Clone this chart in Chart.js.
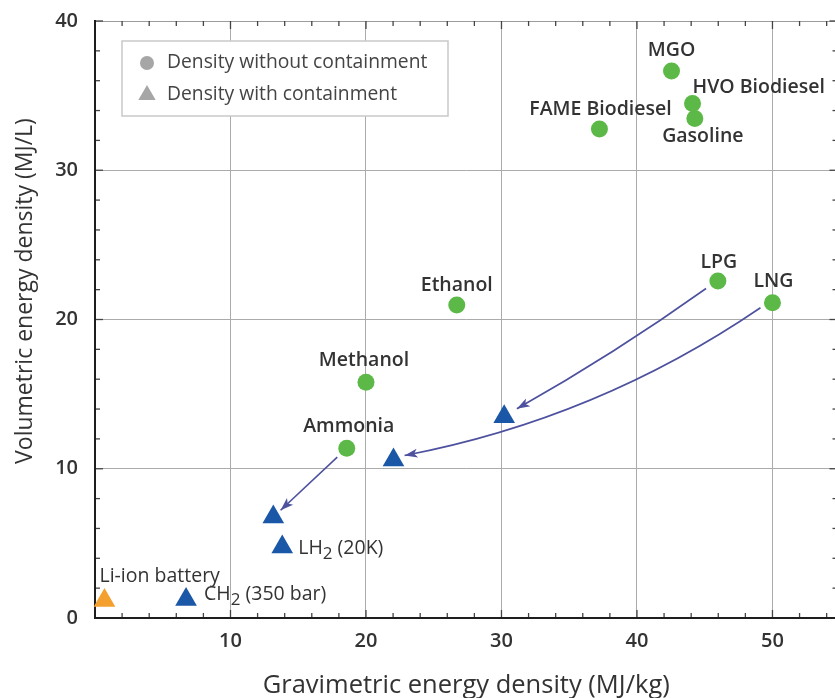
<!DOCTYPE html>
<html>
<head>
<meta charset="utf-8">
<script src="https://cdn.jsdelivr.net/npm/chart.js@4.4.1/dist/chart.umd.min.js"></script>
<style>
html, body { margin: 0; padding: 0; overflow: hidden; background: #fff; }
#wrap { width: 850px; height: 698px; }
</style>
</head>
<body>
<div id="wrap"><canvas id="energyChart" width="850" height="698"></canvas></div>
<script>
// Fuels, density without containment (green circles)
const fuelNames = ['MGO', 'HVO Biodiesel', 'Gasoline', 'FAME Biodiesel', 'Ethanol', 'Methanol', 'Ammonia', 'LPG', 'LNG'];
const fuelGravimetric = [42.55, 44.1, 44.27, 37.23, 26.7, 20.0, 18.58, 45.97, 50.0];
const fuelVolumetric = [36.65, 34.47, 33.47, 32.77, 20.97, 15.8, 11.38, 22.58, 21.12];

// Density with containment (triangles)
const storedNames = ['LPG', 'LNG', 'Ammonia', 'LH₂ (20K)', 'CH₂ (350 bar)', 'Li-ion battery'];
const storedGravimetric = [30.2, 22.03, 13.16, 13.82, 6.72, 0.7];
const storedVolumetric = [13.48, 10.58, 6.76, 4.76, 1.24, 1.18];

// Arrows go from the fuel to its contained version
const arrowNames = ['LPG', 'LNG', 'Ammonia'];

const xTicks = [10, 20, 30, 40, 50];
const yTicks = [0, 10, 20, 30, 40];
const legendLabels = ['Density without containment', 'Density with containment'];
const xTitle = 'Gravimetric energy density (MJ/kg)';
const yTitle = 'Volumetric energy density (MJ/L)';

const COLORS = {
    green: '#5cb947',
    blue: '#1b57a7',
    orange: '#f4a02f',
    arrow: '#4d519e',
    grid: '#ababab',
    text: '#333333',
    legendIcon: '#a6a6a6'
};
const FONT = '"Open Sans", "Noto Sans", sans-serif';

// Label offsets in pixels from the marker
const fuelLabelPos = {
    'MGO': { dx: 0, dy: -21, align: 'center' },
    'HVO Biodiesel': { dx: 0, dy: -16, align: 'left' },
    'Gasoline': { dx: 8, dy: 18, align: 'center' },
    'FAME Biodiesel': { dx: 1, dy: -19, align: 'center' },
    'Ethanol': { dx: 0, dy: -20, align: 'center' },
    'Methanol': { dx: -2, dy: -22, align: 'center' },
    'Ammonia': { dx: 2, dy: -22, align: 'center' },
    'LPG': { dx: 1, dy: -19, align: 'center' },
    'LNG': { dx: 1, dy: -21, align: 'center' }
};
const storedLabelPos = {
    'LH₂ (20K)': { dx: 16, dy: 1, align: 'left' },
    'CH₂ (350 bar)': { dx: 18, dy: -5, align: 'left' },
    'Li-ion battery': { dx: -5, dy: -24, align: 'left' }
};
const arrowShape = {
    'LPG': { bow: 6, startGap: 14, endGap: 15 },
    'LNG': { bow: 40, startGap: 13, endGap: 12 },
    'Ammonia': { bow: 0, startGap: 13, endGap: 10 }
};

// Text with a "₂" drawn as a lowered, smaller 2
function drawRichText(ctx, text, x, y, align, size, weight) {
    const parts = text.split('₂');
    const normal = weight + ' ' + size + 'px ' + FONT;
    const small = weight + ' ' + Math.round(size * 0.85) + 'px ' + FONT;
    const pieces = [];
    parts.forEach((p, i) => {
        pieces.push({ t: p, f: normal, dy: 0 });
        if (i < parts.length - 1) pieces.push({ t: '2', f: small, dy: 6 });
    });
    let total = 0;
    pieces.forEach(p => { ctx.font = p.f; p.w = ctx.measureText(p.t).width; total += p.w; });
    let cx = align === 'center' ? x - total / 2 : (align === 'right' ? x - total : x);
    ctx.textAlign = 'left';
    ctx.textBaseline = 'middle';
    pieces.forEach(p => {
        ctx.font = p.f;
        ctx.fillText(p.t, cx, y + p.dy);
        cx += p.w;
    });
}

function drawArrow(ctx, p0, p1, shape) {
    const dx = p1.x - p0.x, dy = p1.y - p0.y;
    const len = Math.hypot(dx, dy);
    const ux = dx / len, uy = dy / len;
    const s = { x: p0.x + ux * shape.startGap, y: p0.y + uy * shape.startGap };
    const e = { x: p1.x - ux * shape.endGap, y: p1.y - uy * shape.endGap };
    const c = { x: (s.x + e.x) / 2 + uy * shape.bow, y: (s.y + e.y) / 2 - ux * shape.bow };
    ctx.strokeStyle = COLORS.arrow;
    ctx.fillStyle = COLORS.arrow;
    ctx.lineWidth = 1.6;
    ctx.beginPath();
    ctx.moveTo(s.x, s.y);
    ctx.quadraticCurveTo(c.x, c.y, e.x, e.y);
    ctx.stroke();
    // arrow head
    const hx = e.x - c.x, hy = e.y - c.y;
    const hl = Math.hypot(hx, hy);
    const ax = hx / hl, ay = hy / hl;
    const L = 13, W = 4.5;
    ctx.beginPath();
    ctx.moveTo(e.x, e.y);
    ctx.lineTo(e.x - ax * L - ay * W, e.y - ay * L + ax * W);
    ctx.lineTo(e.x - ax * L * 0.75, e.y - ay * L * 0.75);
    ctx.lineTo(e.x - ax * L + ay * W, e.y - ay * L - ax * W);
    ctx.closePath();
    ctx.fill();
}

const framePlugin = {
    id: 'frame',
    beforeDatasetsDraw(chart) {
        const { ctx, chartArea: a, scales: { x, y } } = chart;
        const line = (x1, y1, x2, y2) => { ctx.beginPath(); ctx.moveTo(x1, y1); ctx.lineTo(x2, y2); ctx.stroke(); };
        ctx.save();
        ctx.strokeStyle = '#9c9c9c';
        ctx.lineWidth = 1;
        line(a.left, a.top + 0.5, a.right, a.top + 0.5);

        ctx.strokeStyle = '#444';
        ctx.lineWidth = 1.3;
        x.ticks.filter(t => t.value % 2 === 0).forEach(t => {
            const px = x.getPixelForValue(t.value);
            const len = t.value % 10 === 0 ? 8 : 5;
            line(px, a.bottom, px, a.bottom - len);
            line(px, a.top, px, a.top + len);
        });
        y.ticks.filter(t => t.value % 2 === 0).forEach(t => {
            const py = y.getPixelForValue(t.value);
            const len = t.value % 10 === 0 ? 8 : 5;
            line(a.left, py, a.left + len, py);
            line(a.right, py, a.right - len, py);
        });

        ctx.strokeStyle = '#1e1e1e';
        ctx.lineWidth = 2;
        line(a.left, a.top - 1, a.left, a.bottom + 1);
        line(a.left - 1, a.bottom, a.right, a.bottom);
        ctx.restore();
    },
    afterDatasetsDraw(chart) {
        const { ctx, chartArea: a, scales: { x, y } } = chart;
        ctx.save();

        // arrows
        arrowNames.forEach(name => {
            const i = fuelNames.indexOf(name);
            const j = storedNames.indexOf(name);
            const p0 = { x: x.getPixelForValue(fuelGravimetric[i]), y: y.getPixelForValue(fuelVolumetric[i]) };
            const p1 = { x: x.getPixelForValue(storedGravimetric[j]), y: y.getPixelForValue(storedVolumetric[j]) };
            drawArrow(ctx, p0, p1, arrowShape[name]);
        });

        // point labels
        ctx.fillStyle = COLORS.text;
        fuelNames.forEach((name, i) => {
            const pos = fuelLabelPos[name];
            if (!pos) return;
            drawRichText(ctx, name, x.getPixelForValue(fuelGravimetric[i]) + pos.dx,
                y.getPixelForValue(fuelVolumetric[i]) + pos.dy, pos.align, 19.5, '600');
        });
        storedNames.forEach((name, i) => {
            const pos = storedLabelPos[name];
            if (!pos) return;
            drawRichText(ctx, name, x.getPixelForValue(storedGravimetric[i]) + pos.dx,
                y.getPixelForValue(storedVolumetric[i]) + pos.dy, pos.align, 19.5, '500');
        });

        // legend box
        const lx = a.left + 27, ly = a.top + 20, lw = 326, lh = 75;
        ctx.fillStyle = '#ffffff';
        ctx.fillRect(lx, ly, lw, lh);
        ctx.strokeStyle = '#c9c9c9';
        ctx.lineWidth = 1.5;
        ctx.strokeRect(lx, ly, lw, lh);
        ctx.fillStyle = COLORS.legendIcon;
        ctx.beginPath();
        ctx.arc(lx + 25, ly + 22, 7, 0, Math.PI * 2);
        ctx.fill();
        const tx = lx + 25, ty = ly + 54, r = 10;
        ctx.beginPath();
        ctx.moveTo(tx, ty - r);
        ctx.lineTo(tx + r * 0.866, ty + r / 2);
        ctx.lineTo(tx - r * 0.866, ty + r / 2);
        ctx.closePath();
        ctx.fill();
        ctx.fillStyle = '#444';
        ctx.font = '400 19.3px ' + FONT;
        ctx.textAlign = 'left';
        ctx.textBaseline = 'middle';
        ctx.fillText(legendLabels[0], lx + 45, ly + 22);
        ctx.fillText(legendLabels[1], lx + 45, ly + 54);

        // axis titles
        ctx.fillStyle = COLORS.text;
        ctx.font = '400 25.5px ' + FONT;
        ctx.textAlign = 'center';
        ctx.textBaseline = 'alphabetic';
        ctx.fillText(xTitle, (a.left + a.right) / 2, 693);
        ctx.font = '400 23px ' + FONT;
        ctx.translate(32, 291);
        ctx.rotate(-Math.PI / 2);
        ctx.fillText(yTitle, 0, 0);
        ctx.restore();
    }
};

const tickFont = { family: FONT, size: 20, weight: '600' };

// Fix the scale box sizes and drop the label padding so the plot area stays put
function fitX(s) { s.height = 80; s.paddingLeft = 0; s.paddingRight = 0; }
function fitY(s) { s.width = 95; s.paddingTop = 0; s.paddingBottom = 0; }

new Chart(document.getElementById('energyChart').getContext('2d'), {
    type: 'scatter',
    data: {
        datasets: [{
            label: legendLabels[0],
            data: fuelNames.map((n, i) => ({ x: fuelGravimetric[i], y: fuelVolumetric[i] })),
            pointStyle: 'circle',
            pointRadius: 8.5,
            pointHoverRadius: 8.5,
            pointBorderWidth: 0,
            backgroundColor: COLORS.green,
            borderColor: COLORS.green,
            clip: false
        }, {
            label: legendLabels[1],
            data: storedNames.map((n, i) => ({ x: storedGravimetric[i], y: storedVolumetric[i] })),
            pointStyle: 'triangle',
            pointRadius: 12.5,
            pointHoverRadius: 12.5,
            pointBorderWidth: 0,
            backgroundColor: storedNames.map(n => n === 'Li-ion battery' ? COLORS.orange : COLORS.blue),
            borderColor: storedNames.map(n => n === 'Li-ion battery' ? COLORS.orange : COLORS.blue),
            clip: false
        }]
    },
    options: {
        responsive: false,
        animation: false,
        events: [],
        layout: { padding: { top: 21, right: 0, left: 0, bottom: 0 } },
        plugins: {
            legend: { display: false },
            tooltip: { enabled: false }
        },
        scales: {
            x: {
                type: 'linear',
                min: 0,
                max: 54.8,
                afterFit: fitX,
                border: { display: false },
                grid: {
                    drawTicks: false,
                    lineWidth: 1,
                    color: ctx => (ctx.tick && xTicks.includes(ctx.tick.value)) ? COLORS.grid : 'rgba(0,0,0,0)'
                },
                ticks: {
                    stepSize: 2,
                    includeBounds: false,
                    autoSkip: false,
                    maxRotation: 0,
                    padding: 11,
                    color: COLORS.text,
                    font: tickFont,
                    callback: v => xTicks.includes(v) ? String(v) : ''
                }
            },
            y: {
                type: 'linear',
                min: 0,
                max: 40,
                afterFit: fitY,
                border: { display: false },
                grid: {
                    drawTicks: false,
                    lineWidth: 1,
                    color: ctx => (ctx.tick && yTicks.includes(ctx.tick.value)) ? COLORS.grid : 'rgba(0,0,0,0)'
                },
                ticks: {
                    stepSize: 2,
                    autoSkip: false,
                    padding: 17,
                    color: COLORS.text,
                    font: tickFont,
                    callback: v => yTicks.includes(v) ? String(v) : ''
                }
            }
        }
    },
    plugins: [framePlugin]
});
</script>
</body>
</html>
